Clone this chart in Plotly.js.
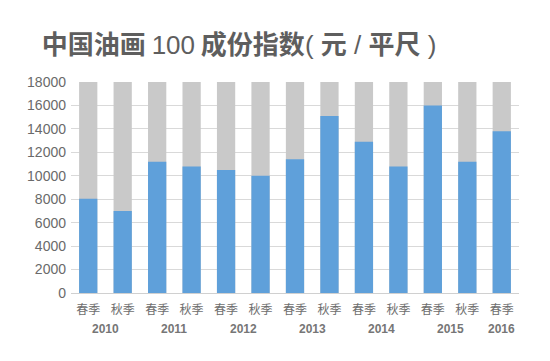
<!DOCTYPE html>
<html>
<head>
<meta charset="utf-8">
<script src="https://cdn.plot.ly/plotly-3.0.1.min.js"></script>
<style>html,body{margin:0;padding:0;background:#fff;}#chart{width:550px;height:361px;}</style>
</head>
<body>
<div id="chart"></div>
<script>
var years = ['2010','2010','2011','2011','2012','2012','2013','2013','2014','2014','2015','2015','2016'];
var seasons = ['春季','秋季','春季','秋季','春季','秋季','春季','秋季','春季','秋季','春季','秋季','春季'];
var indexValues = [8050, 7000, 11200, 10800, 10500, 10000, 11400, 15100, 12900, 10800, 16000, 11200, 13800];
var fullScale = [18000, 18000, 18000, 18000, 18000, 18000, 18000, 18000, 18000, 18000, 18000, 18000, 18000];
var yTicks = [0, 2000, 4000, 6000, 8000, 10000, 12000, 14000, 16000, 18000];

var fontFam = '"Liberation Sans", "Noto Sans CJK SC", Arial, sans-serif';
var cjkFam = '"Noto Sans CJK SC", sans-serif';

// unique category keys, labelled with the season only
var keys = years.map(function (y, i) { return y + ' ' + seasons[i]; });

// year labels centred under their group of bars
var yearAnn = [];
var seen = {};
years.forEach(function (y, i) {
  if (!seen[y]) { seen[y] = []; yearAnn.push(y); }
  seen[y].push(i);
});
var annotations = yearAnn.map(function (y) {
  var idx = seen[y];
  var mid = idx.reduce(function (a, b) { return a + b; }, 0) / idx.length;
  return {
    x: mid, xref: 'x', y: -0.171, yref: 'paper', yanchor: 'middle', xanchor: 'center',
    text: '<b>' + y + '</b>', showarrow: false,
    font: {family: fontFam, size: 12, color: '#767676'}
  };
});

var traces = [
  {type: 'bar', x: keys, y: fullScale, marker: {color: '#c9c9c9'}, hoverinfo: 'skip', showlegend: false},
  {type: 'bar', x: keys, y: indexValues, marker: {color: '#5fa0da'}, showlegend: false}
];

var layout = {
  width: 550, height: 361,
  margin: {l: 71, r: 31, t: 82, b: 68},
  paper_bgcolor: '#ffffff', plot_bgcolor: '#ffffff',
  barmode: 'overlay',
  bargap: 0.47,
  title: {
    text: '<b>中国油画</b> <span style="font-family:Liberation Sans">100</span> <b>成份指数</b><span style="font-family:Liberation Sans">( </span><b>元</b><span style="font-family:Liberation Sans"> / </span><b>平尺</b><span style="font-family:Liberation Sans"> )</span>',
    font: {family: cjkFam, size: 26, color: '#5e5e5e'},
    xref: 'container', yref: 'container', x: 0.076, xanchor: 'left', y: 0.875, yanchor: 'middle'
  },
  xaxis: {
    type: 'category',
    tickvals: keys, ticktext: seasons,
    showline: true, linecolor: '#d0d0d0', linewidth: 1,
    ticks: 'outside', ticklen: 6, tickcolor: 'rgba(0,0,0,0)', showgrid: false,
    tickfont: {family: cjkFam, size: 12, color: '#6e6e6e'}
  },
  yaxis: {
    range: [0, 18000], tickvals: yTicks, ticktext: yTicks.map(String),
    showgrid: true, gridcolor: '#d9d9d9', gridwidth: 1,
    zeroline: false, showline: false, ticks: '',
    tickfont: {family: fontFam, size: 14, color: '#6a6a6a'},
    ticklabelstandoff: 4
  },
  annotations: annotations,
  font: {family: fontFam}
};

Plotly.newPlot('chart', traces, layout, {displayModeBar: false, staticPlot: true});
</script>
</body>
</html>
